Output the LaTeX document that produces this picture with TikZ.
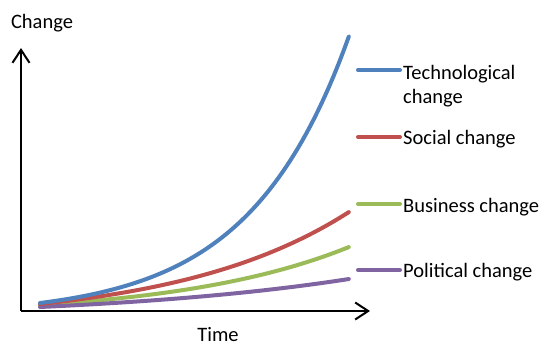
\documentclass[tikz,border=0pt]{standalone}
\usepackage{fontspec}
\setmainfont{Carlito}
\usetikzlibrary{arrows.meta}
\definecolor{techblue}{HTML}{4F81BD}
\definecolor{socred}{HTML}{C0504D}
\definecolor{busgreen}{HTML}{9BBB59}
\definecolor{polpurple}{HTML}{8064A2}
\tikzset{
  axisline/.style={line width=2pt, black, -{Straight Barb[length=13pt,width=17pt,line width=2pt]}},
  trend/.style={line width=4pt, line cap=round},
  lbl/.style={anchor=base west, inner sep=0pt, font=\fontsize{20.5}{25}\selectfont},
  axlbl/.style={anchor=base, inner sep=0pt, font=\fontsize{20.5}{25}\selectfont}
}
\begin{document}
\begin{tikzpicture}[x=1pt,y=-1pt]
\useasboundingbox (0,0) rectangle (544,346);
\fill[white] (0,0) rectangle (544,346);
% axes
\coordinate (O) at (21,311);
\coordinate (ytip) at (21,48);
\coordinate (xtip) at (370,311);
\draw[axisline] (O) -- (ytip);
\draw[axisline] (O) -- (xtip);
\node[axlbl] (ylab) at (42,28) {Change};
\node[axlbl] (xlab) at (218,341.5) {Time};
% curves
\draw[trend, busgreen] plot[domain=0:1, samples=60, variable=\t]
  ({40+309*\t}, {305-58*(exp(1.8*\t)-1)/(exp(1.8)-1)});
\draw[trend, polpurple] plot[domain=0:1, samples=60, variable=\t]
  ({40+309*\t}, {307-28*(exp(1.2*\t)-1)/(exp(1.2)-1)});
\draw[trend, socred] plot[domain=0:1, samples=60, variable=\t]
  ({40+309*\t}, {304-92*(exp(1.8*\t)-1)/(exp(1.8)-1)});
\draw[trend, techblue] plot[domain=0:1, samples=80, variable=\t]
  ({40+309*\t}, {303-267*(exp(3.1*\t)-1)/(exp(3.1)-1)});
% legend
\coordinate (l1a) at (358,70);  \coordinate (l1b) at (400,70);
\coordinate (l2a) at (358,137); \coordinate (l2b) at (400,137);
\coordinate (l3a) at (358,204); \coordinate (l3b) at (400,204);
\coordinate (l4a) at (358,270); \coordinate (l4b) at (400,270);
\draw[trend, techblue] (l1a) -- (l1b);
\draw[trend, socred] (l2a) -- (l2b);
\draw[trend, busgreen] (l3a) -- (l3b);
\draw[trend, polpurple] (l4a) -- (l4b);
\node[lbl] (t1) at (403,79) {Technological};
\node[lbl] (t1b) at (403,103) {change};
\node[lbl] (t2) at (403,144) {Social change};
\node[lbl] (t3) at (403,212) {Business change};
\node[lbl] (t4) at (403,277) {Political change};
\end{tikzpicture}
\end{document}
